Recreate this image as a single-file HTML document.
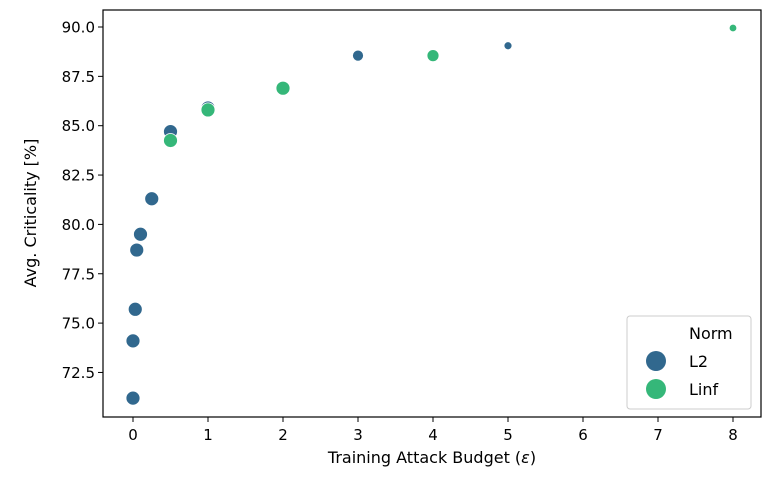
<!DOCTYPE html>
<html><head><meta charset="utf-8"><style>
body{margin:0;background:#fff}
svg text{font-family:"DejaVu Sans","Liberation Sans",sans-serif;fill:#000}
</style></head><body>
<svg width="777" height="481" xmlns="http://www.w3.org/2000/svg">
<g id="ticks"></g>
<g id="pts"></g>
<rect x="103" y="10" width="658" height="407" fill="none" stroke="#000" stroke-width="1.2"/>
<text x="432" y="463" font-size="16" text-anchor="middle">Training Attack Budget (<tspan font-style="italic">ε</tspan>)</text>
<text transform="translate(36,213) rotate(-90)" font-size="16" text-anchor="middle">Avg. Criticality [%]</text>
<g>
<rect x="627" y="316" width="124" height="93" rx="3" fill="#fff" fill-opacity="0.8" stroke="#ccc"/>
<text x="689" y="339" font-size="16">Norm</text>
<circle cx="656" cy="361" r="10" fill="#31688e"/>
<text x="689" y="367" font-size="16">L2</text>
<circle cx="656" cy="389" r="10" fill="#35b779"/>
<text x="689" y="395" font-size="16">Linf</text>
</g>
</svg>
<script>
const l2X=[0,0,0.03,0.05,0.1,0.25,0.5,1,3,5];
const l2Y=[71.2,74.1,75.7,78.7,79.5,81.3,84.7,85.9,88.55,89.05];
const l2R=[7,7,7,7,7,7,7,7,5.5,4];
const linfX=[0.5,1,2,4,8];
const linfY=[84.25,85.8,86.9,88.55,89.95];
const linfR=[7,7,7,6,3.8];
const xTicks=[0,1,2,3,4,5,6,7,8];
const yTicks=[72.5,75.0,77.5,80.0,82.5,85.0,87.5,90.0];
const xs=v=>133+v*75, ys=v=>27+(90-v)*19.74;
const NS="http://www.w3.org/2000/svg";
const tk=document.getElementById('ticks'), pg=document.getElementById('pts');
function mk(t,a,p){const e=document.createElementNS(NS,t);for(const k in a)e.setAttribute(k,a[k]);p.appendChild(e);return e;}
xTicks.forEach(v=>{
 const l=mk('line',{x1:xs(v),x2:xs(v),y1:417,y2:422,stroke:'#000'},tk);
 
 
 const t=mk('text',{x:xs(v),y:440,'font-size':15,'text-anchor':'middle'},tk);t.textContent=v;
 
 
});
yTicks.forEach(v=>{
 const l=mk('line',{x1:98,x2:103,y1:ys(v),y2:ys(v),stroke:'#000'},tk);
 
 
 const t=mk('text',{x:95,y:ys(v)+5.5,'font-size':15,'text-anchor':'end'},tk);t.textContent=v.toFixed(1);
 
 
});
function series(X,Y,R,col,name){X.forEach((x,i)=>{
 const c=mk('circle',{cx:xs(x),cy:ys(Y[i]),r:R[i],fill:col,stroke:'#fff','stroke-width':0.8},pg);
 
 
});}
series(l2X,l2Y,l2R,'#31688e','point-l2');
series(linfX,linfY,linfR,'#35b779','point-linf');
</script>
</body></html>
